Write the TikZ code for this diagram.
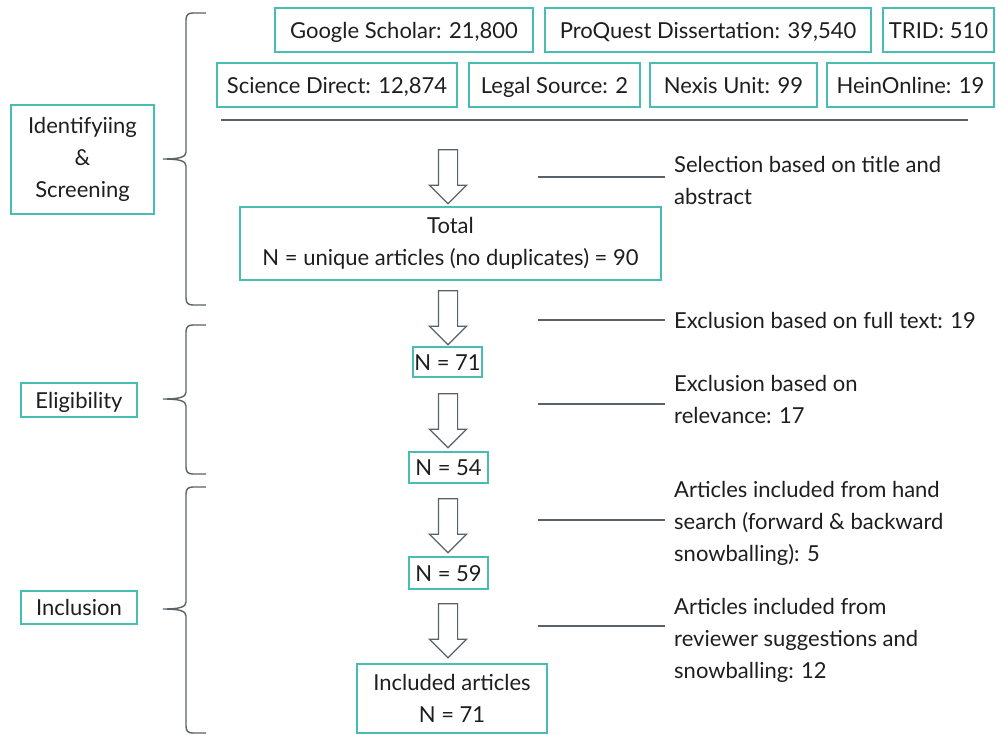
\documentclass[tikz,border=0pt]{standalone}
\usepackage{fontspec}
\setmainfont{Lato}
\usetikzlibrary{shapes.arrows}
\definecolor{boxline}{RGB}{72,189,178}
\definecolor{ruleline}{RGB}{88,98,104}
\definecolor{ink}{RGB}{30,30,30}

\begin{document}
\begin{tikzpicture}[x=1pt,y=-1pt,font=\fontsize{22}{32}\selectfont,text=ink,
  srcbox/.style={draw=boxline,line width=1.4pt,minimum height=44pt,inner sep=0pt,
    text height=17pt,text depth=1pt},
  stagebox/.style={draw=boxline,line width=1.4pt,inner sep=0pt,align=center},
  countbox/.style={draw=boxline,line width=1.4pt,inner sep=0pt,align=center},
  onerow/.style={text height=17pt,text depth=1pt},
  note/.style={anchor=west,align=left,inner xsep=9pt,inner ysep=0pt},
  blockarrow/.style={shape=single arrow,draw=ruleline,line width=1.2pt,rotate=-90,
    minimum height=54pt,inner xsep=0pt,inner ysep=9pt,single arrow head extend=9pt,
    single arrow tip angle=90},
  sideline/.style={draw=ruleline,line width=1.2pt},
  bracket/.style={draw=ruleline,line width=1.4pt}]
\useasboundingbox (0,0) rectangle (996,734);

% databases
\node[srcbox,minimum width=258pt] (gs) at (404,30) {Google Scholar: 21,800};
\node[srcbox,minimum width=326pt] (pq) at (708,30) {ProQuest Dissertation: 39,540};
\node[srcbox,minimum width=111pt] (trid) at (938.5,30) {TRID: 510};
\node[srcbox,minimum width=240pt] (sd) at (337,85) {Science Direct: 12,874};
\node[srcbox,minimum width=171pt] (ls) at (554.5,85) {Legal Source: 2};
\node[srcbox,minimum width=167pt] (nx) at (733.5,85) {Nexis Unit: 99};
\node[srcbox,minimum width=167pt] (ho) at (910.5,85) {HeinOnline: 19};
\draw[sideline] (221,120) -- (968,120);

% stages
\node[stagebox,minimum width=143pt,minimum height=109pt] (idscr) at (82.5,159.5) {Identifyiing\\\&\\Screening};
\node[stagebox,onerow,minimum width=116pt,minimum height=34pt] (elig) at (79,400) {Eligibility};
\node[stagebox,onerow,minimum width=116pt,minimum height=33pt] (incl) at (79,607.5) {Inclusion};
\foreach \t/\m/\b in {13/159/305, 325/399/474, 487/609/733}
  \draw[bracket] (206,\t) -- (193,\t) .. controls (188,\t) and (186,\t+2) .. (186,\t+7)
    -- (186,\m-7) .. controls (186,\m-2) and (180,\m) .. (163,\m)
    .. controls (180,\m) and (186,\m+2) .. (186,\m+7)
    -- (186,\b-7) .. controls (186,\b-2) and (188,\b) .. (193,\b) -- (206,\b);

% flow
\node[blockarrow] (a1) at (448,172) {};
\node[countbox,minimum width=421pt,minimum height=73pt] (total) at (450.5,243.5) {Total\\N = unique articles (no duplicates) = 90};
\node[blockarrow] (a2) at (448,313) {};
\node[countbox,onerow,minimum width=69pt,minimum height=30pt] (n71) at (447.5,362) {N = 71};
\node[blockarrow] (a3) at (448,416) {};
\node[countbox,onerow,minimum width=79pt,minimum height=31pt] (n54) at (448.5,467.5) {N = 54};
\node[blockarrow] (a4) at (448,521) {};
\node[countbox,onerow,minimum width=79pt,minimum height=32pt] (n59) at (448.5,573) {N = 59};
\node[blockarrow] (a5) at (448,626) {};
\node[countbox,minimum width=190pt,minimum height=69pt] (final) at (452,698.5) {Included articles\\N = 71};

% notes
\node[note] (t1) at (665,180) {Selection based on title and\\abstract};
\node[note] (t2) at (665,320) {Exclusion based on full text: 19};
\node[note] (t3) at (665,399) {Exclusion based on\\relevance: 17};
\node[note] (t4) at (665,523) {Articles included from hand\\search (forward \& backward\\snowballing): 5};
\node[note] (t5) at (665,640) {Articles included from\\reviewer suggestions and\\snowballing: 12};
\coordinate (s1) at (538,177);
\coordinate (s2) at (538,320);
\coordinate (s3) at (538,404);
\coordinate (s4) at (538,520);
\coordinate (s5) at (538,626);
\foreach \i in {1,...,5}
  \draw[sideline] (s\i) -- (s\i -| t\i.west);
\end{tikzpicture}
\end{document}
